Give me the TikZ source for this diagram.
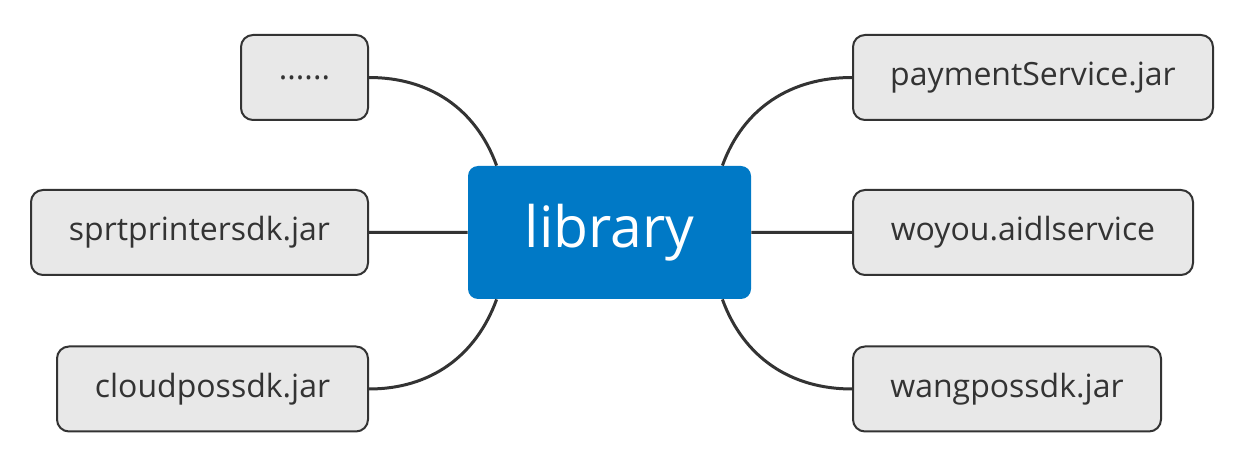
\documentclass[tikz,border=0pt]{standalone}
\usepackage{fontspec}
\setmainfont{Open Sans}
\definecolor{libblue}{HTML}{0079C6}
\definecolor{leafgray}{HTML}{E8E8E8}
\definecolor{inkgray}{HTML}{333333}

\begin{document}
\begin{tikzpicture}[x=0.5pt, y=-0.5pt,
  leaf/.style={draw=inkgray, line width=1pt, fill=leafgray, rounded corners=6pt,
    minimum height=42.5pt, text=inkgray, font=\fontsize{16}{19}\selectfont, inner sep=0pt},
  root/.style={fill=libblue, rounded corners=5pt, minimum width=141.5pt,
    minimum height=66.5pt, text=white, font=\fontsize{28.5}{32}\selectfont, inner sep=0pt},
  branch/.style={draw=inkgray, line width=1.5pt}]
  \useasboundingbox (0,0) rectangle (1260,454);

  \node[root] (lib) at (609.5, 232.5) {library};

  \node[leaf, minimum width=63.5pt]
    (more) at (304.5, 77.5) {......};
  \node[leaf, minimum width=168.5pt]
    (sprt) at (199.5, 232.5) {sprtprintersdk.jar};
  \node[leaf, minimum width=155.5pt]
    (cloud) at (212.5, 389) {cloudpossdk.jar};

  \node[leaf, minimum width=180pt]
    (pay) at (1033, 77.5) {paymentService.jar};
  \node[leaf, minimum width=170pt]
    (woyou) at (1023, 232.5) {woyou.aidlservice};
  \node[leaf, minimum width=154pt]
    (wang) at (1007, 389) {wangpossdk.jar};

  \draw[branch]
    (more.east)  to[out=0, in=110]   ([xshift=14.5pt]lib.north west)
    (sprt.east)  --                  (lib.west)
    (cloud.east) to[out=0, in=-110]  ([xshift=14.5pt]lib.south west)
    (pay.west)   to[out=180, in=70]  ([xshift=-14.5pt]lib.north east)
    (woyou.west) --                  (lib.east)
    (wang.west)  to[out=180, in=-70] ([xshift=-14.5pt]lib.south east);
\end{tikzpicture}
\end{document}
